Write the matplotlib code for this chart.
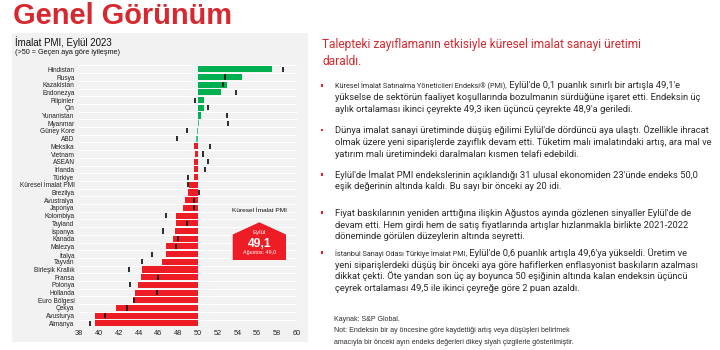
import matplotlib
matplotlib.use("Agg")
import matplotlib.pyplot as plt
from matplotlib.patches import Rectangle, Polygon

# ---------------- data ----------------
countries = ["Hindistan", "Rusya", "Kazakistan", "Endonezya", "Filipinler", "Çin",
             "Yunanistan", "Myanmar", "Güney Kore", "ABD", "Meksika", "Vietnam",
             "ASEAN", "İrlanda", "Türkiye", "Küresel İmalat PMI", "Brezilya",
             "Avustralya", "Japonya", "Kolombiya", "Tayland", "İspanya", "Kanada",
             "Malezya", "İtalya", "Tayvan", "Birleşik Krallık", "Fransa", "Polonya",
             "Hollanda", "Euro Bölgesi", "Çekya", "Avusturya", "Almanya"]
pmi_sep = [57.5, 54.5, 52.9, 52.3, 50.6, 50.6, 50.3, 50.1, 49.9, 49.8, 49.6, 49.7,
           49.6, 49.6, 49.6, 49.1, 49.0, 48.7, 48.5, 47.8, 47.8, 47.7, 47.5,
           46.8, 46.8, 46.4, 44.3, 44.2, 43.9, 43.6, 43.4, 41.7, 39.6, 39.6]
pmi_aug = [58.6, 52.7, 52.5, 53.9, 49.7, 51.0, 52.9, 53.0, 48.9, 47.9, 51.2, 50.5,
           51.0, 50.7, 49.0, 49.0, 50.1, 49.6, 49.6, 46.8, 48.9, 46.5, 48.0,
           47.8, 45.4, 44.3, 43.0, 46.0, 43.1, 45.9, 43.5, 42.8, 40.6, 39.1]
xticks = list(range(38, 61, 2))
threshold = 50

title = "Genel Görünüm"
chart_title = "İmalat PMI, Eylül 2023"
chart_sub = "(>50 = Geçen aya göre iyileşme)"
headline = ["Talepteki zayıflamanın etkisiyle küresel imalat sanayi üretimi", "daraldı."]

RED = "#ee1c25"
TITLE_RED = "#d7282f"
GREEN = "#00b050"
LGREEN = "#3cc383"
TXT = "#2b2b2b"

W, H = 720, 350
fig = plt.figure(figsize=(7.2, 3.5), dpi=100)
fig.patch.set_facecolor("white")

bg = fig.add_axes([0, 0, 1, 1], zorder=0)
bg.set_xlim(0, W); bg.set_ylim(H, 0); bg.axis("off")
fg = fig.add_axes([0, 0, 1, 1], zorder=3)
fg.set_xlim(0, W); fg.set_ylim(H, 0); fg.axis("off")
fg.patch.set_alpha(0)

renderer = fig.canvas.get_renderer()


def fit(ax, x, y, s, width, **kw):
    t = ax.text(x, y, s, fontsize=10, **kw)
    w = t.get_window_extent(renderer).width
    t.set_fontsize(10 * width / w)
    return t


def measure_fs(s, width, **kw):
    t = fg.text(0, 0, s, fontsize=10, **kw)
    w = t.get_window_extent(renderer).width
    t.remove()
    return 10 * width / w


# gray panel
bg.add_patch(Rectangle((12, 33), 296, 309, facecolor="#f2f2f2", edgecolor="none"))

# title
fit(fg, 13, 24, title, 220, color=TITLE_RED, fontweight="bold",
    family="Liberation Sans", va="baseline")
fit(fg, 15, 46.5, chart_title, 98, color="#111111", family="Liberation Sans", va="baseline")
fit(fg, 15, 54, chart_sub, 106, color="#111111", family="Liberation Sans", va="baseline")

# ---------------- chart ----------------
n = len(countries)
row = 7.7
top_c = 69.3 - row / 2
bot_c = 69.3 + (n - 1) * row + row / 2
x0, x1 = 79.3, 296.7
ax = fig.add_axes([x0 / W, 1 - bot_c / H, (x1 - x0) / W, (bot_c - top_c) / H], zorder=1)
ax.patch.set_alpha(0)
ax.set_xlim(xticks[0], xticks[-1])
ax.set_ylim(n - 0.5, -0.5)
for s in ax.spines.values():
    s.set_visible(False)

for i in range(n + 1):
    ax.axhline(i - 0.5, color="white", lw=0.8, zorder=0)

colors = []
for v in pmi_sep:
    if v >= 50.3:
        colors.append(GREEN)
    elif v >= 49.8:
        colors.append(LGREEN)
    else:
        colors.append(RED)
ax.barh(range(n), [v - threshold for v in pmi_sep], left=threshold, height=0.78,
        color=colors, zorder=2)
ax.vlines(pmi_aug, [i - 0.33 for i in range(n)], [i + 0.33 for i in range(n)],
          color="#1a1a1a", lw=1.3, zorder=3)

lab_fs = measure_fs("Küresel İmalat PMI", 55.3, family="Liberation Sans")
ax.set_yticks(range(n))
ax.set_yticklabels(countries, fontsize=lab_fs, family="Liberation Sans", color="#222222")
ax.set_xticks(xticks)
ax.set_xticklabels([str(t) for t in xticks], fontsize=5.3, family="Liberation Sans",
                   color="#222222")
ax.tick_params(axis="y", length=0, pad=3.4)
ax.tick_params(axis="x", length=0, pad=2.2)

# annotation pentagon
fg.add_patch(Polygon([(232.7, 260), (232.7, 234.5), (259.3, 222.3), (286, 234.5), (286, 260)],
                     closed=True, facecolor=RED, edgecolor="none"))
fit(fg, 259.3, 211.7, "Küresel İmalat PMI", 55, ha="center", va="baseline",
    family="Liberation Sans", color="#111111")
fit(fg, 259.3, 234, "Eylül", 13.3, ha="center", va="baseline", family="Liberation Sans",
    color="white")
fit(fg, 259.3, 246.7, "49,1", 23.7, ha="center", va="baseline", family="Liberation Sans",
    color="white", fontweight="bold")
fit(fg, 259.3, 254, "Ağustos: 49,0", 32.7, ha="center", va="baseline",
    family="Liberation Sans", color="white")

# ---------------- right side text ----------------
HEAD = "Roboto"
hfs = measure_fs(headline[0], 321, family=HEAD)
fg.text(322.5, 48.3, headline[0], fontsize=hfs, family=HEAD, color=TITLE_RED, va="baseline")
fg.text(322.5, 65, headline[1], fontsize=hfs, family=HEAD, color=TITLE_RED, va="baseline")

BODY = "Roboto"
bfs = measure_fs("Dünya imalat sanayi üretiminde düşüş eğilimi Eylül'de dördüncü aya ulaştı. Özellikle ihracat",
                 375.7, family=BODY)
sfs = bfs * 0.78
TX = 335

bullets = [
    (88.5, [("Küresel İmalat Satınalma Yöneticileri Endeksi® (PMI),", " Eylül'de 0,1 puanlık sınırlı bir artışla 49,1'e"),
            "yükselse de sektörün faaliyet koşullarında bozulmanın sürdüğüne işaret etti. Endeksin üç",
            "aylık ortalaması ikinci çeyrekte 49,3 iken üçüncü çeyrekte 48,9'a geriledi."]),
    (133.3, ["Dünya imalat sanayi üretiminde düşüş eğilimi Eylül'de dördüncü aya ulaştı. Özellikle ihracat",
             "olmak üzere yeni siparişlerde zayıflık devam etti. Tüketim malı imalatındaki artış, ara mal ve",
             "yatırım malı üretimindeki daralmaları kısmen telafi edebildi."]),
    (177.5, ["Eylül'de İmalat PMI endekslerinin açıklandığı 31 ulusal ekonomiden 23'ünde endeks 50,0",
             "eşik değerinin altında kaldı. Bu sayı bir önceki ay 20 idi."]),
    (215.8, ["Fiyat baskılarının yeniden arttığına ilişkin Ağustos ayında gözlenen sinyaller Eylül'de de",
             "devam etti. Hem girdi hem de satış fiyatlarında artışlar hızlanmakla birlikte 2021-2022",
             "döneminde görülen düzeylerin altında seyretti."]),
    (255.8, [("İstanbul Sanayi Odası Türkiye İmalat PMI,", " Eylül'de 0,6 puanlık artışla 49,6'ya yükseldi. Üretim ve"),
             "yeni siparişlerdeki düşüş bir önceki aya göre hafiflerken enflasyonist baskıların azalması",
             "dikkat çekti. Öte yandan son üç ay boyunca 50 eşiğinin altında kalan endeksin üçüncü",
             "çeyrek ortalaması 49,5 ile ikinci çeyreğe göre 2 puan azaldı."]),
]
LS = 11.7
for y0, lines in bullets:
    fg.add_patch(Rectangle((321, y0 - 4.4), 2.4, 2.4, facecolor=RED, edgecolor="none"))
    for k, ln in enumerate(lines):
        y = y0 + k * LS
        if isinstance(ln, tuple):
            t = fg.text(TX, y, ln[0], fontsize=sfs, family=BODY, color=TXT, va="baseline")
            bb = t.get_window_extent(renderer)
            xe = fg.transData.inverted().transform((bb.x1, bb.y0))[0]
            fg.text(xe, y, ln[1], fontsize=bfs, family=BODY, color=TXT, va="baseline")
        else:
            fg.text(TX, y, ln, fontsize=bfs, family=BODY, color=TXT, va="baseline")

nfs = measure_fs("Not: Endeksin bir ay öncesine göre kaydettiği artış veya düşüşleri belirtmek",
                 232, family="Liberation Sans")
for yy, s in [(321, "Kaynak: S&P Global."),
              (332.5, "Not: Endeksin bir ay öncesine göre kaydettiği artış veya düşüşleri belirtmek"),
              (344, "amacıyla bir önceki ayın endeks değerleri dikey siyah çizgilerle gösterilmiştir.")]:
    fg.text(333.5, yy, s, fontsize=nfs, family="Liberation Sans", color=TXT, va="baseline")

fig.savefig("out.png", dpi=100)
